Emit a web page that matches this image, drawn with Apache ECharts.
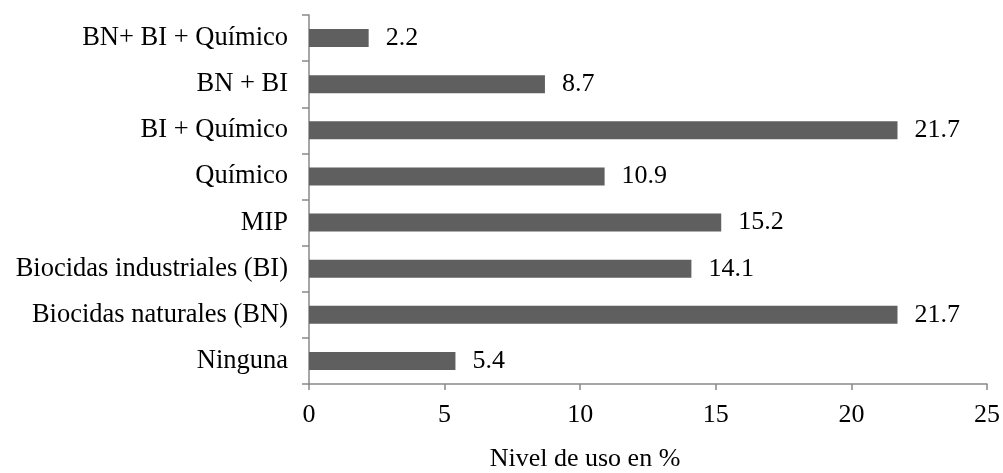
<!DOCTYPE html>
<html>
<head>
<meta charset="utf-8">
<script src="https://cdn.jsdelivr.net/npm/echarts@6/dist/echarts.min.js"></script>
<style>
  html, body { margin: 0; padding: 0; background: #fff; }
  #chart { width: 1003px; height: 473px; }
</style>
</head>
<body>
<div id="chart"></div>
<script>
// Categories listed bottom to top (category axis starts at the bottom)
const categories = [
  'Ninguna',
  'Biocidas naturales (BN)',
  'Biocidas industriales (BI)',
  'MIP',
  'Químico',
  'BI + Químico',
  'BN + BI',
  'BN+ BI + Químico'
];
const usage = [5.4, 21.7, 14.1, 15.2, 10.9, 21.7, 8.7, 2.2];
const xTicks = [0, 5, 10, 15, 20, 25];
const xTitle = 'Nivel de uso en %';

const font = '"Liberation Serif", "Times New Roman", serif';
const axisGray = '#898989';
const fs = 26;

const chart = echarts.init(document.getElementById('chart'), null, { renderer: 'canvas' });
chart.setOption({
  animation: false,
  textStyle: { fontFamily: font },
  // x-axis title sits below the plot, a little left of the axis centre
  title: {
    text: xTitle,
    left: 585,
    top: 446,
    textAlign: 'center',
    padding: 0,
    textStyle: { fontFamily: font, fontSize: fs, fontWeight: 'normal', color: '#000' }
  },
  grid: { left: 309, right: 15, top: 15, bottom: 89 },
  xAxis: {
    type: 'value',
    min: xTicks[0],
    max: xTicks[xTicks.length - 1],
    interval: 5,
    axisLine: { show: true, lineStyle: { color: axisGray, width: 1.5 } },
    axisTick: { show: true, length: 6, lineStyle: { color: axisGray, width: 1.5 } },
    axisLabel: { fontFamily: font, fontSize: fs, color: '#000', margin: 18 },
    splitLine: { show: false }
  },
  yAxis: {
    type: 'category',
    data: categories,
    axisLine: { show: true, lineStyle: { color: axisGray, width: 1.5 } },
    axisTick: { show: true, length: 7, alignWithLabel: false, lineStyle: { color: axisGray, width: 1.5 } },
    axisLabel: { fontFamily: font, fontSize: 26.5, color: '#000', margin: 21 }
  },
  series: [{
    type: 'bar',
    data: usage,
    barWidth: 18,
    itemStyle: { color: '#5f5f5f' },
    label: {
      show: true,
      position: 'right',
      distance: 17,
      fontFamily: font,
      fontSize: fs,
      color: '#000',
      formatter: p => p.value.toFixed(1)
    }
  }]
});
</script>
</body>
</html>
